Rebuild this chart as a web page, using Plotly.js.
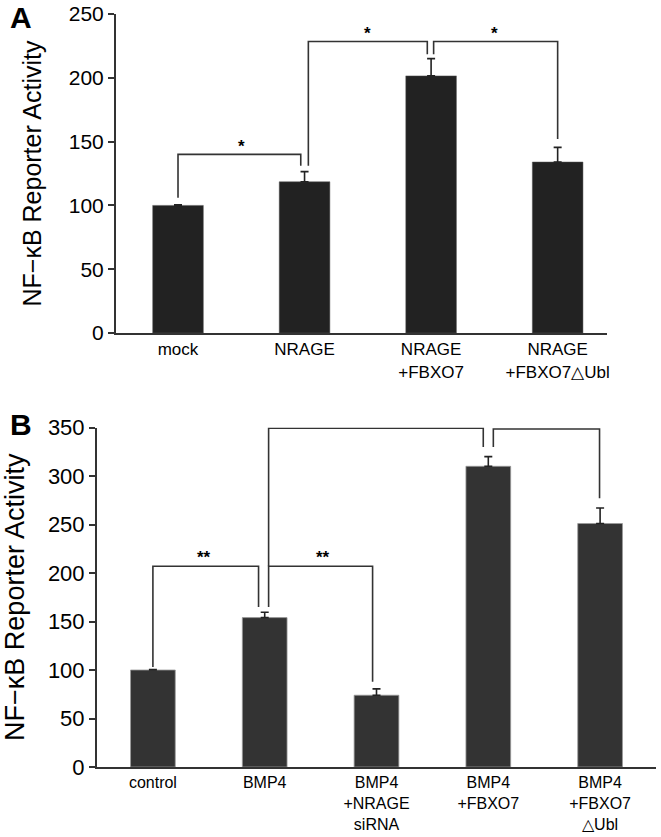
<!DOCTYPE html>
<html>
<head>
<meta charset="utf-8">
<script src="https://cdn.plot.ly/plotly-3.0.1.min.js"></script>
<style>html,body{margin:0;padding:0;background:#fff;}#chart{width:661px;height:837px;}</style>
</head>
<body>
<div id="chart"></div>
<script>
// ---------- Panel A data ----------
const catsA = ["mock", "NRAGE", "NRAGE<br>+FBXO7", "NRAGE<br>+FBXO7△Ubl"];
const valsA = [100, 118.5, 201.5, 134];
const errA = [0.4, 8, 13.5, 11.5];
const errMinusA = [0, 0, 0, 0];
const tickValsA = [0, 50, 100, 150, 200, 250];

// ---------- Panel B data ----------
const catsB = ["control", "BMP4", "BMP4<br>+NRAGE<br>siRNA", "BMP4<br>+FBXO7", "BMP4<br>+FBXO7<br>△Ubl"];
const valsB = [100, 154, 74, 310, 251];
const errB = [0.4, 5.5, 6.5, 10, 16];
const errMinusB = [0, 0, 0, 0, 0];
const tickValsB = [0, 50, 100, 150, 200, 250, 300, 350];

// significance brackets: [xLeft, yLeftStart, yTop, xRight, yRightEnd, label, labelX, labelY]
const bracketsA = [
  [0.0, 106, 140, 0.97, 131, "*", 0.50, 146],
  [1.03, 131, 228.5, 1.97, 218.5, "*", 1.50, 235],
  [2.02, 218.5, 228.5, 3.0, 152, "*", 2.50, 235]
];
const bracketsB = [
  [0.0, 103, 207, 0.945, 165, "**", 0.46, 216],
  [1.035, 165, 207, 1.965, 88, "**", 1.52, 216],
  [1.035, 207, 349.3, 2.955, 330, "**", 2.03, 358],
  [3.045, 330, 348.5, 3.995, 277, "**", 3.56, 355]
];

const font = "Arial, 'Liberation Sans', Helvetica, sans-serif";
const shapes = [];
const annotations = [];
function addBrackets(list, xr, yr) {
  list.forEach(b => {
    const [xl, yl0, yt, xrr, yr1, lab, lx, ly] = b;
    shapes.push({type: 'path', xref: xr, yref: yr,
      path: `M ${xl},${yl0} L ${xl},${yt} L ${xrr},${yt} L ${xrr},${yr1}`,
      line: {color: '#333', width: 1.6}});
    annotations.push({xref: xr, yref: yr, x: lx, y: ly, text: "<b>" + lab + "</b>", showarrow: false,
      font: {family: font, size: 17, color: '#000'}, yanchor: 'middle'});
  });
}
addBrackets(bracketsA, 'x', 'y');
addBrackets(bracketsB, 'x2', 'y2');

annotations.push({xref: 'paper', yref: 'paper', x: 21/661, y: 1 - 17/837, text: "<b>A</b>",
  showarrow: false, font: {family: font, size: 30, color: '#000'}, xanchor: 'center', yanchor: 'middle'});
annotations.push({xref: 'paper', yref: 'paper', x: 21/661, y: 1 - 424/837, text: "<b>B</b>",
  showarrow: false, font: {family: font, size: 30, color: '#000'}, xanchor: 'center', yanchor: 'middle'});

const traceA = {
  type: 'bar', x: catsA.map((c, i) => i), y: valsA, width: 0.4,
  marker: {color: '#222', line: {color: '#555', width: 0.5}},
  error_y: {type: 'data', symmetric: false, array: errA, arrayminus: errMinusA,
    color: '#222', thickness: 1.6, width: 4},
  xaxis: 'x', yaxis: 'y', hoverinfo: 'none'
};
const traceB = {
  type: 'bar', x: catsB.map((c, i) => i), y: valsB, width: 0.4,
  marker: {color: '#333', line: {color: '#999', width: 0.8}},
  error_y: {type: 'data', symmetric: false, array: errB, arrayminus: errMinusB,
    color: '#222', thickness: 1.6, width: 4},
  xaxis: 'x2', yaxis: 'y2', hoverinfo: 'none'
};

const yTitle = "NF−κB Reporter Activity";
const layout = {
  width: 661, height: 837,
  margin: {l: 0, r: 0, t: 0, b: 0},
  paper_bgcolor: '#fff', plot_bgcolor: '#fff',
  showlegend: false,
  font: {family: font, color: '#000'},
  xaxis: {
    domain: [116/661, 607/661], anchor: 'y',
    range: [-0.49, 3.39], tickmode: 'array', tickvals: catsA.map((c, i) => i), ticktext: catsA,
    ticks: '', showline: true, linewidth: 2, linecolor: '#333', showgrid: false, zeroline: false,
    tickfont: {family: font, size: 17, color: '#000'}, ticklabelstandoff: 0, ticklabeloverflow: 'allow'
  },
  yaxis: {
    domain: [1 - 333/837, 1 - 14/837], anchor: 'x',
    range: [0, 250], tickmode: 'array', tickvals: tickValsA,
    ticks: 'outside', ticklen: 6, tickwidth: 2, tickcolor: '#333',
    showline: true, linewidth: 2, linecolor: '#333', showgrid: false, zeroline: false,
    tickfont: {family: font, size: 21, color: '#000'}, ticklabeloverflow: 'allow',
    title: {text: yTitle, font: {family: font, size: 25, color: '#000'}, standoff: 20}
  },
  xaxis2: {
    domain: [97/661, 656/661], anchor: 'y2',
    range: [-0.5, 4.5], tickmode: 'array', tickvals: catsB.map((c, i) => i), ticktext: catsB,
    ticks: '', showline: true, linewidth: 2, linecolor: '#333', showgrid: false, zeroline: false,
    tickfont: {family: font, size: 16, color: '#000'}, ticklabelstandoff: 0, ticklabeloverflow: 'allow'
  },
  yaxis2: {
    domain: [1 - 767/837, 1 - 427.5/837], anchor: 'x2',
    range: [0, 350], tickmode: 'array', tickvals: tickValsB,
    ticks: 'outside', ticklen: 6, tickwidth: 2, tickcolor: '#333',
    showline: true, linewidth: 2, linecolor: '#333', showgrid: false, zeroline: false,
    tickfont: {family: font, size: 22, color: '#000'}, ticklabeloverflow: 'allow',
    title: {text: yTitle, font: {family: font, size: 27, color: '#000'}, standoff: 16}
  },
  shapes: shapes,
  annotations: annotations
};

Plotly.newPlot('chart', [traceA, traceB], layout, {displayModeBar: false, staticPlot: true});
</script>
</body>
</html>
